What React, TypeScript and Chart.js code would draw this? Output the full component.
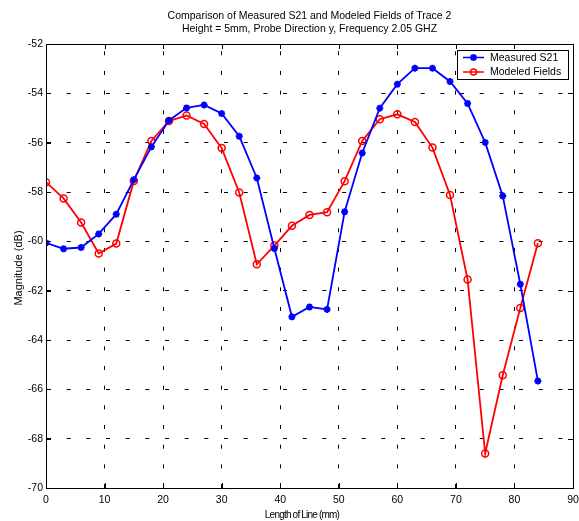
import React, { useEffect, useRef } from 'react';
import { Chart, registerables } from 'chart.js';

Chart.register(...registerables);

const titleLines = [
  'Comparison of Measured S21 and Modeled Fields of Trace 2',
  'Height = 5mm, Probe Direction y, Frequency 2.05 GHZ',
];
const xAxisTitle = 'Length of Line (mm)';
const yAxisTitle = 'Magnitude (dB)';
const seriesNames = ['Measured S21', 'Modeled Fields'];

const lengthMm = [0, 3, 6, 9, 12, 15, 18, 21, 24, 27, 30, 33, 36, 39, 42, 45, 48, 51, 54, 57, 60, 63, 66, 69, 72, 75, 78, 81, 84];
const measuredS21 = [-60.06, -60.3, -60.25, -59.7, -58.9, -57.5, -56.17, -55.1, -54.59, -54.47, -54.82, -55.74, -57.43, -60.29, -63.06, -62.66, -62.76, -58.8, -56.42, -54.6, -53.63, -52.98, -52.98, -53.52, -54.41, -55.99, -58.16, -61.74, -65.66];
const modeledFields = [-57.6, -58.26, -59.24, -60.49, -60.09, -57.55, -55.93, -55.12, -54.9, -55.24, -56.22, -58.02, -60.93, -60.17, -59.37, -58.93, -58.82, -57.56, -55.93, -55.05, -54.85, -55.16, -56.2, -58.12, -61.55, -68.6, -65.43, -62.7, -60.08];

const xMin = 0;
const xMax = 90;
const xStep = 10;
const yMin = -70;
const yMax = -52;
const yStep = 2;

const BLUE = '#0000ff';
const RED = '#ff0000';
const FONT = 'Arial, "Liberation Sans", Helvetica, sans-serif';

function drawStar(ctx: CanvasRenderingContext2D, x: number, y: number, r: number) {
  ctx.beginPath();
  for (let k = 0; k < 4; k++) {
    const a = (k * Math.PI) / 4;
    ctx.moveTo(x - Math.cos(a) * r, y - Math.sin(a) * r);
    ctx.lineTo(x + Math.cos(a) * r, y + Math.sin(a) * r);
  }
  ctx.stroke();
}

const matlabPlugin = {
  id: 'matlabFrame',
  afterDatasetsDraw(chart: any) {
    const ctx = chart.ctx as CanvasRenderingContext2D;
    const { left, right, top, bottom } = chart.chartArea;
    const xs = chart.scales.x;
    const ys = chart.scales.y;
    ctx.save();
    ctx.strokeStyle = '#000';
    ctx.lineWidth = 1;
    ctx.setLineDash([]);
    // inward ticks
    const tl = 5;
    ctx.beginPath();
    xs.ticks.forEach((t: any) => {
      const px = Math.round(xs.getPixelForValue(t.value)) + 0.5;
      ctx.moveTo(px, bottom);
      ctx.lineTo(px, bottom - tl);
      ctx.moveTo(px, top);
      ctx.lineTo(px, top + tl);
    });
    ys.ticks.forEach((t: any) => {
      const py = Math.round(ys.getPixelForValue(t.value)) + 0.5;
      ctx.moveTo(left, py);
      ctx.lineTo(left + tl, py);
      ctx.moveTo(right, py);
      ctx.lineTo(right - tl, py);
    });
    ctx.stroke();
    // box
    ctx.strokeRect(Math.round(left) + 0.5, Math.round(top) + 0.5, Math.round(right - left), Math.round(bottom - top));

    // legend
    const lw = 111;
    const lh = 29;
    const lx = Math.round(right) - 5 - lw;
    const ly = Math.round(top) + 6;
    ctx.fillStyle = '#fff';
    ctx.fillRect(lx, ly, lw, lh);
    ctx.strokeStyle = '#000';
    ctx.lineWidth = 1;
    ctx.strokeRect(lx + 0.5, ly + 0.5, lw, lh);
    const rows = [
      { name: seriesNames[0], color: BLUE, marker: 'star' },
      { name: seriesNames[1], color: RED, marker: 'circle' },
    ];
    ctx.font = `10.5px ${FONT}`;
    ctx.textBaseline = 'middle';
    ctx.textAlign = 'left';
    rows.forEach((r, i) => {
      const ry = ly + 7.5 + i * 14.5;
      ctx.strokeStyle = r.color;
      ctx.lineWidth = 1.5;
      ctx.beginPath();
      ctx.moveTo(lx + 6, ry);
      ctx.lineTo(lx + 27, ry);
      ctx.stroke();
      const mx = lx + 16.5;
      if (r.marker === 'star') {
        ctx.lineWidth = 2;
        drawStar(ctx, mx, ry, 3.5);
      } else {
        ctx.lineWidth = 1.5;
        ctx.beginPath();
        ctx.arc(mx, ry, 3, 0, Math.PI * 2);
        ctx.stroke();
      }
      ctx.fillStyle = '#000';
      ctx.fillText(r.name, lx + 33, ry + 0.5);
    });

    // chart title
    ctx.fillStyle = '#000';
    ctx.textAlign = 'center';
    ctx.textBaseline = 'middle';
    ctx.font = `10.5px ${FONT}`;
    const cx = (left + right) / 2;
    ctx.fillText(titleLines[0], cx, 16.5);
    ctx.fillText(titleLines[1], cx, 29.5);

    // x axis title (condensed like the original)
    ctx.save();
    ctx.font = `10px ${FONT}`;
    (ctx as any).letterSpacing = '-0.8px';
    ctx.fillText(xAxisTitle, 302, 515);
    ctx.restore();

    // y axis title
    ctx.save();
    ctx.translate(18.5, (top + bottom) / 2 + 2);
    ctx.rotate(-Math.PI / 2);
    ctx.font = `11px ${FONT}`;
    ctx.textAlign = 'center';
    ctx.textBaseline = 'middle';
    ctx.fillText(yAxisTitle, 0, 0);
    ctx.restore();

    ctx.restore();
  },
};

export default function App() {
  const ref = useRef<HTMLCanvasElement | null>(null);
  useEffect(() => {
    if (!ref.current) return;
    const gridCommon = {
      color: '#000',
      lineWidth: 1,
      drawTicks: false,
    };
    const chart = new Chart(ref.current, {
      type: 'line',
      data: {
        datasets: [
          {
            label: seriesNames[0],
            data: lengthMm.map((x, i) => ({ x, y: measuredS21[i] })),
            borderColor: BLUE,
            backgroundColor: BLUE,
            borderWidth: 1.8,
            pointStyle: 'star',
            pointRadius: 3.5,
            pointBorderWidth: 2,
            pointBorderColor: BLUE,
            tension: 0,
            fill: false,
          },
          {
            label: seriesNames[1],
            data: lengthMm.map((x, i) => ({ x, y: modeledFields[i] })),
            borderColor: RED,
            backgroundColor: 'rgba(0,0,0,0)',
            borderWidth: 1.8,
            pointStyle: 'circle',
            pointRadius: 3.5,
            pointBorderWidth: 1.5,
            pointBorderColor: RED,
            pointBackgroundColor: 'rgba(0,0,0,0)',
            tension: 0,
            fill: false,
          },
        ],
      },
      options: {
        responsive: false,
        animation: false,
        events: [],
        layout: { padding: { top: 44, right: 0, left: 0, bottom: 0 } },
        plugins: {
          legend: { display: false },
          title: { display: false },
          tooltip: { enabled: false },
        },
        scales: {
          x: {
            type: 'linear',
            min: xMin,
            max: xMax,
            ticks: {
              stepSize: xStep,
              color: '#000',
              padding: 6,
              font: { family: FONT, size: 10.5 },
              maxRotation: 0,
            },
            grid: { ...gridCommon } as any,
            border: { display: true, color: '#000', width: 1, dash: [4, 15.67], dashOffset: 12.4 } as any,
            title: { display: false },
            afterFit: (s: any) => {
              s.height = 33;
              s.paddingLeft = 0;
              s.paddingRight = 5;
            },
          },
          y: {
            type: 'linear',
            min: yMin,
            max: yMax,
            ticks: {
              stepSize: yStep,
              color: '#000',
              padding: 3,
              font: { family: FONT, size: 10.5 },
            },
            grid: { ...gridCommon } as any,
            border: { display: true, color: '#000', width: 1, dash: [4, 15.67] } as any,
            title: { display: false },
            afterFit: (s: any) => {
              s.width = 46;
            },
          },
        },
      },
      plugins: [matlabPlugin],
    });
    return () => chart.destroy();
  }, []);
  return (
    <div style={{ position: 'absolute', left: 0, top: 0, width: 579, height: 521, background: '#fff' }}>
      <canvas ref={ref} width={579} height={521} style={{ display: 'block' }} />
    </div>
  );
}
